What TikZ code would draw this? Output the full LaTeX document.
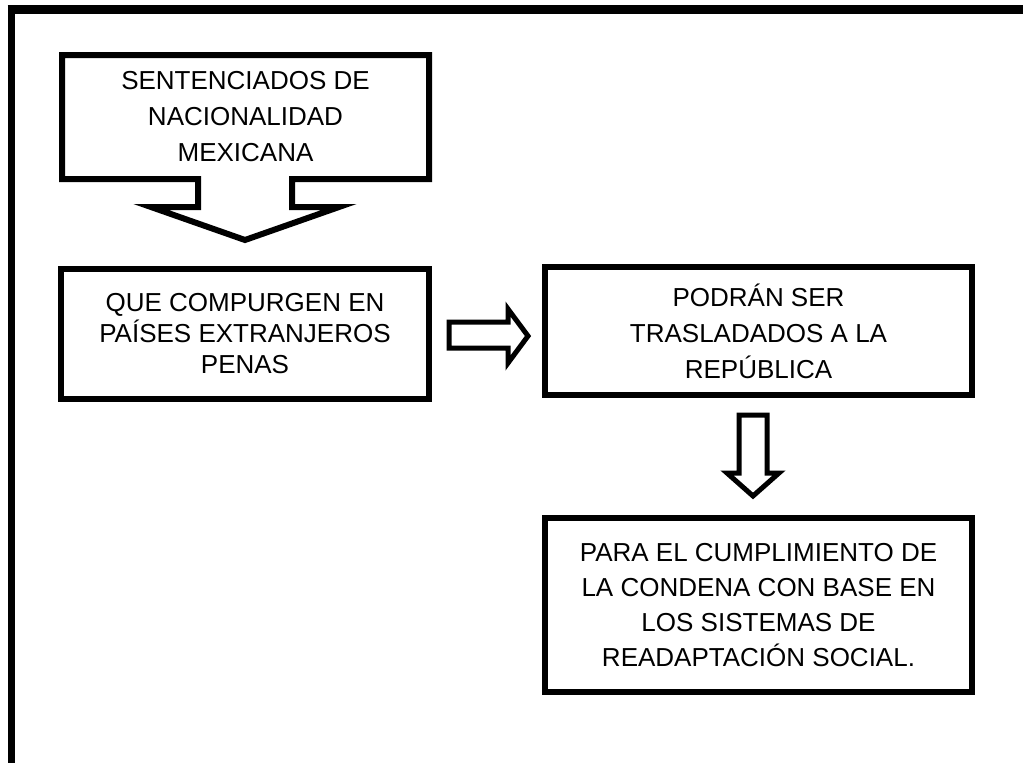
\documentclass[tikz,border=0pt]{standalone}
\usepackage{fontspec}
\setmainfont{Liberation Sans}
\begin{document}
\begin{tikzpicture}[x=1pt, y=-1pt, line join=miter,
    main/.style = {draw, line width=6pt, rectangle, align=center, font=\fontsize{26}{36}\selectfont},
    blockarrow/.style = {draw, line width=5pt, fill=white}]
    \useasboundingbox (0,0) rectangle (1023,763);
    \fill[white] (0,0) rectangle (1023,763);
    %Frame
    \draw[line width=9pt] (7.5,9.5) -- (1023,9.5);
    \draw[line width=7pt] (11,5) -- (11,763);
    \node[main, draw=none, outer sep=0pt, minimum width=367pt, minimum height=124pt] (1) at (245.5,117) {SENTENCIADOS DE\\NACIONALIDAD\\MEXICANA};
    \node[main, minimum width=368pt, minimum height=130pt, font=\fontsize{26}{31}\selectfont] (2) at (245,334) {QUE COMPURGEN EN\\PAÍSES EXTRANJEROS\\PENAS};
    \node[main, minimum width=427pt, minimum height=128pt] (3) at (758.5,331) {PODRÁN SER\\TRASLADADOS A LA\\REPÚBLICA};
    \node[main, minimum width=427pt, minimum height=174pt, font=\fontsize{26}{35}\selectfont] (4) at (758.5,605) {PARA EL CUMPLIMIENTO DE\\LA CONDENA CON BASE EN\\LOS SISTEMAS DE\\READAPTACIÓN SOCIAL.};
    %Callout
    \draw[line width=6pt] (1.north west) -- (1.north east) -- (1.south east) -- (292,179) -- (292,207) -- (339,207) -- (245,240) -- (151,207) -- (198,207) -- (198,179) -- (1.south west) -- cycle;
    %Arrows
    \draw[blockarrow] (449,322) -- (508,322) -- (508,309) -- (528,336) -- (508,363) -- (508,348) -- (449,348) -- cycle;
    \draw[blockarrow] (739,415) -- (767,415) -- (767,473) -- (779,473) -- (753,496) -- (727,473) -- (739,473) -- cycle;
\end{tikzpicture}
\end{document}
